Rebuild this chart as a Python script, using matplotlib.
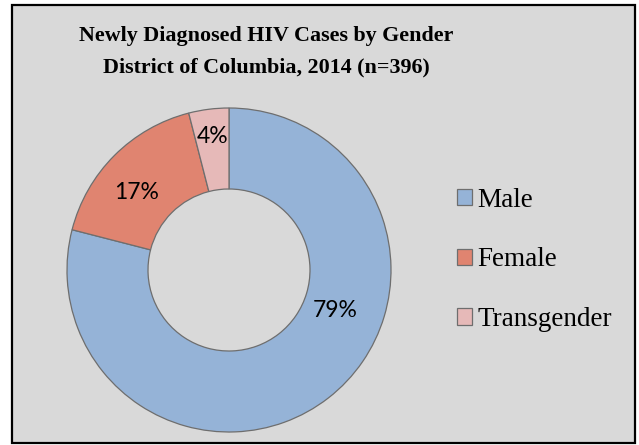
import numpy as np
import matplotlib
matplotlib.use("Agg")
import matplotlib.pyplot as plt
from matplotlib.patches import Rectangle, Patch

# newly diagnosed HIV cases by gender, DC 2014 (n=396)
genders = ["Male", "Female", "Transgender"]
shares = [79, 17, 4]
pct_labels = ["79%", "17%", "4%"]
colors = ["#95b3d7", "#e08470", "#e6b9b8"]

# where Excel drew the percent labels (angle in degrees, radius as fraction)
label_angles = [-21, 140, 97]
label_radii = [0.70, 0.745, 0.83]

W, H = 639, 445
fig = plt.figure(figsize=(W / 100, H / 100), dpi=100)
fig.patch.set_facecolor("white")

# grey chart area with black frame
fig.patches.append(Rectangle((12 / W, 1 - 443 / H), (635 - 12) / W, (443 - 5) / H,
                             transform=fig.transFigure, facecolor="#d9d9d9",
                             edgecolor="black", linewidth=1.6, zorder=-5))

cx, cy, r = 229, 270, 162
ax = fig.add_axes([(cx - r) / W, (H - cy - r) / H, 2 * r / W, 2 * r / H])
ax.set_zorder(2)
ax.set_facecolor("none")
wedges, _ = ax.pie(shares, colors=colors, startangle=90, counterclock=False,
                   radius=1, wedgeprops=dict(width=0.5, edgecolor="#6e6e6e", linewidth=0.9))
ax.set_xlim(-1, 1)
ax.set_ylim(-1, 1)
ax.axis("off")

for lab, ang, rad in zip(pct_labels, label_angles, label_radii):
    a = np.deg2rad(ang)
    ax.text(rad * np.cos(a), rad * np.sin(a), lab, ha="center", va="center",
            fontsize=16.5, family=["Lato", "DejaVu Sans"], color="black")

fig.text(266 / W, 1 - 26 / H, "Newly Diagnosed HIV Cases by Gender\nDistrict of Columbia, 2014 (n=396)",
         ha="center", va="top", fontsize=15.8, fontweight="bold",
         family=["Liberation Serif", "DejaVu Serif"], linespacing=1.75)

handles = [Patch(facecolor=c, edgecolor="#6e6e6e", linewidth=0.9) for c in colors]
fig.legend(handles, genders, loc="center left", bbox_to_anchor=(457 / W, 1 - 260 / H),
           frameon=False, borderpad=0, borderaxespad=0, handlelength=0.55, handleheight=0.55,
           handletextpad=0.2, labelspacing=1.28,
           prop=dict(family=["Liberation Serif", "DejaVu Serif"], size=19.5))

fig.savefig("out.png", dpi=100)
